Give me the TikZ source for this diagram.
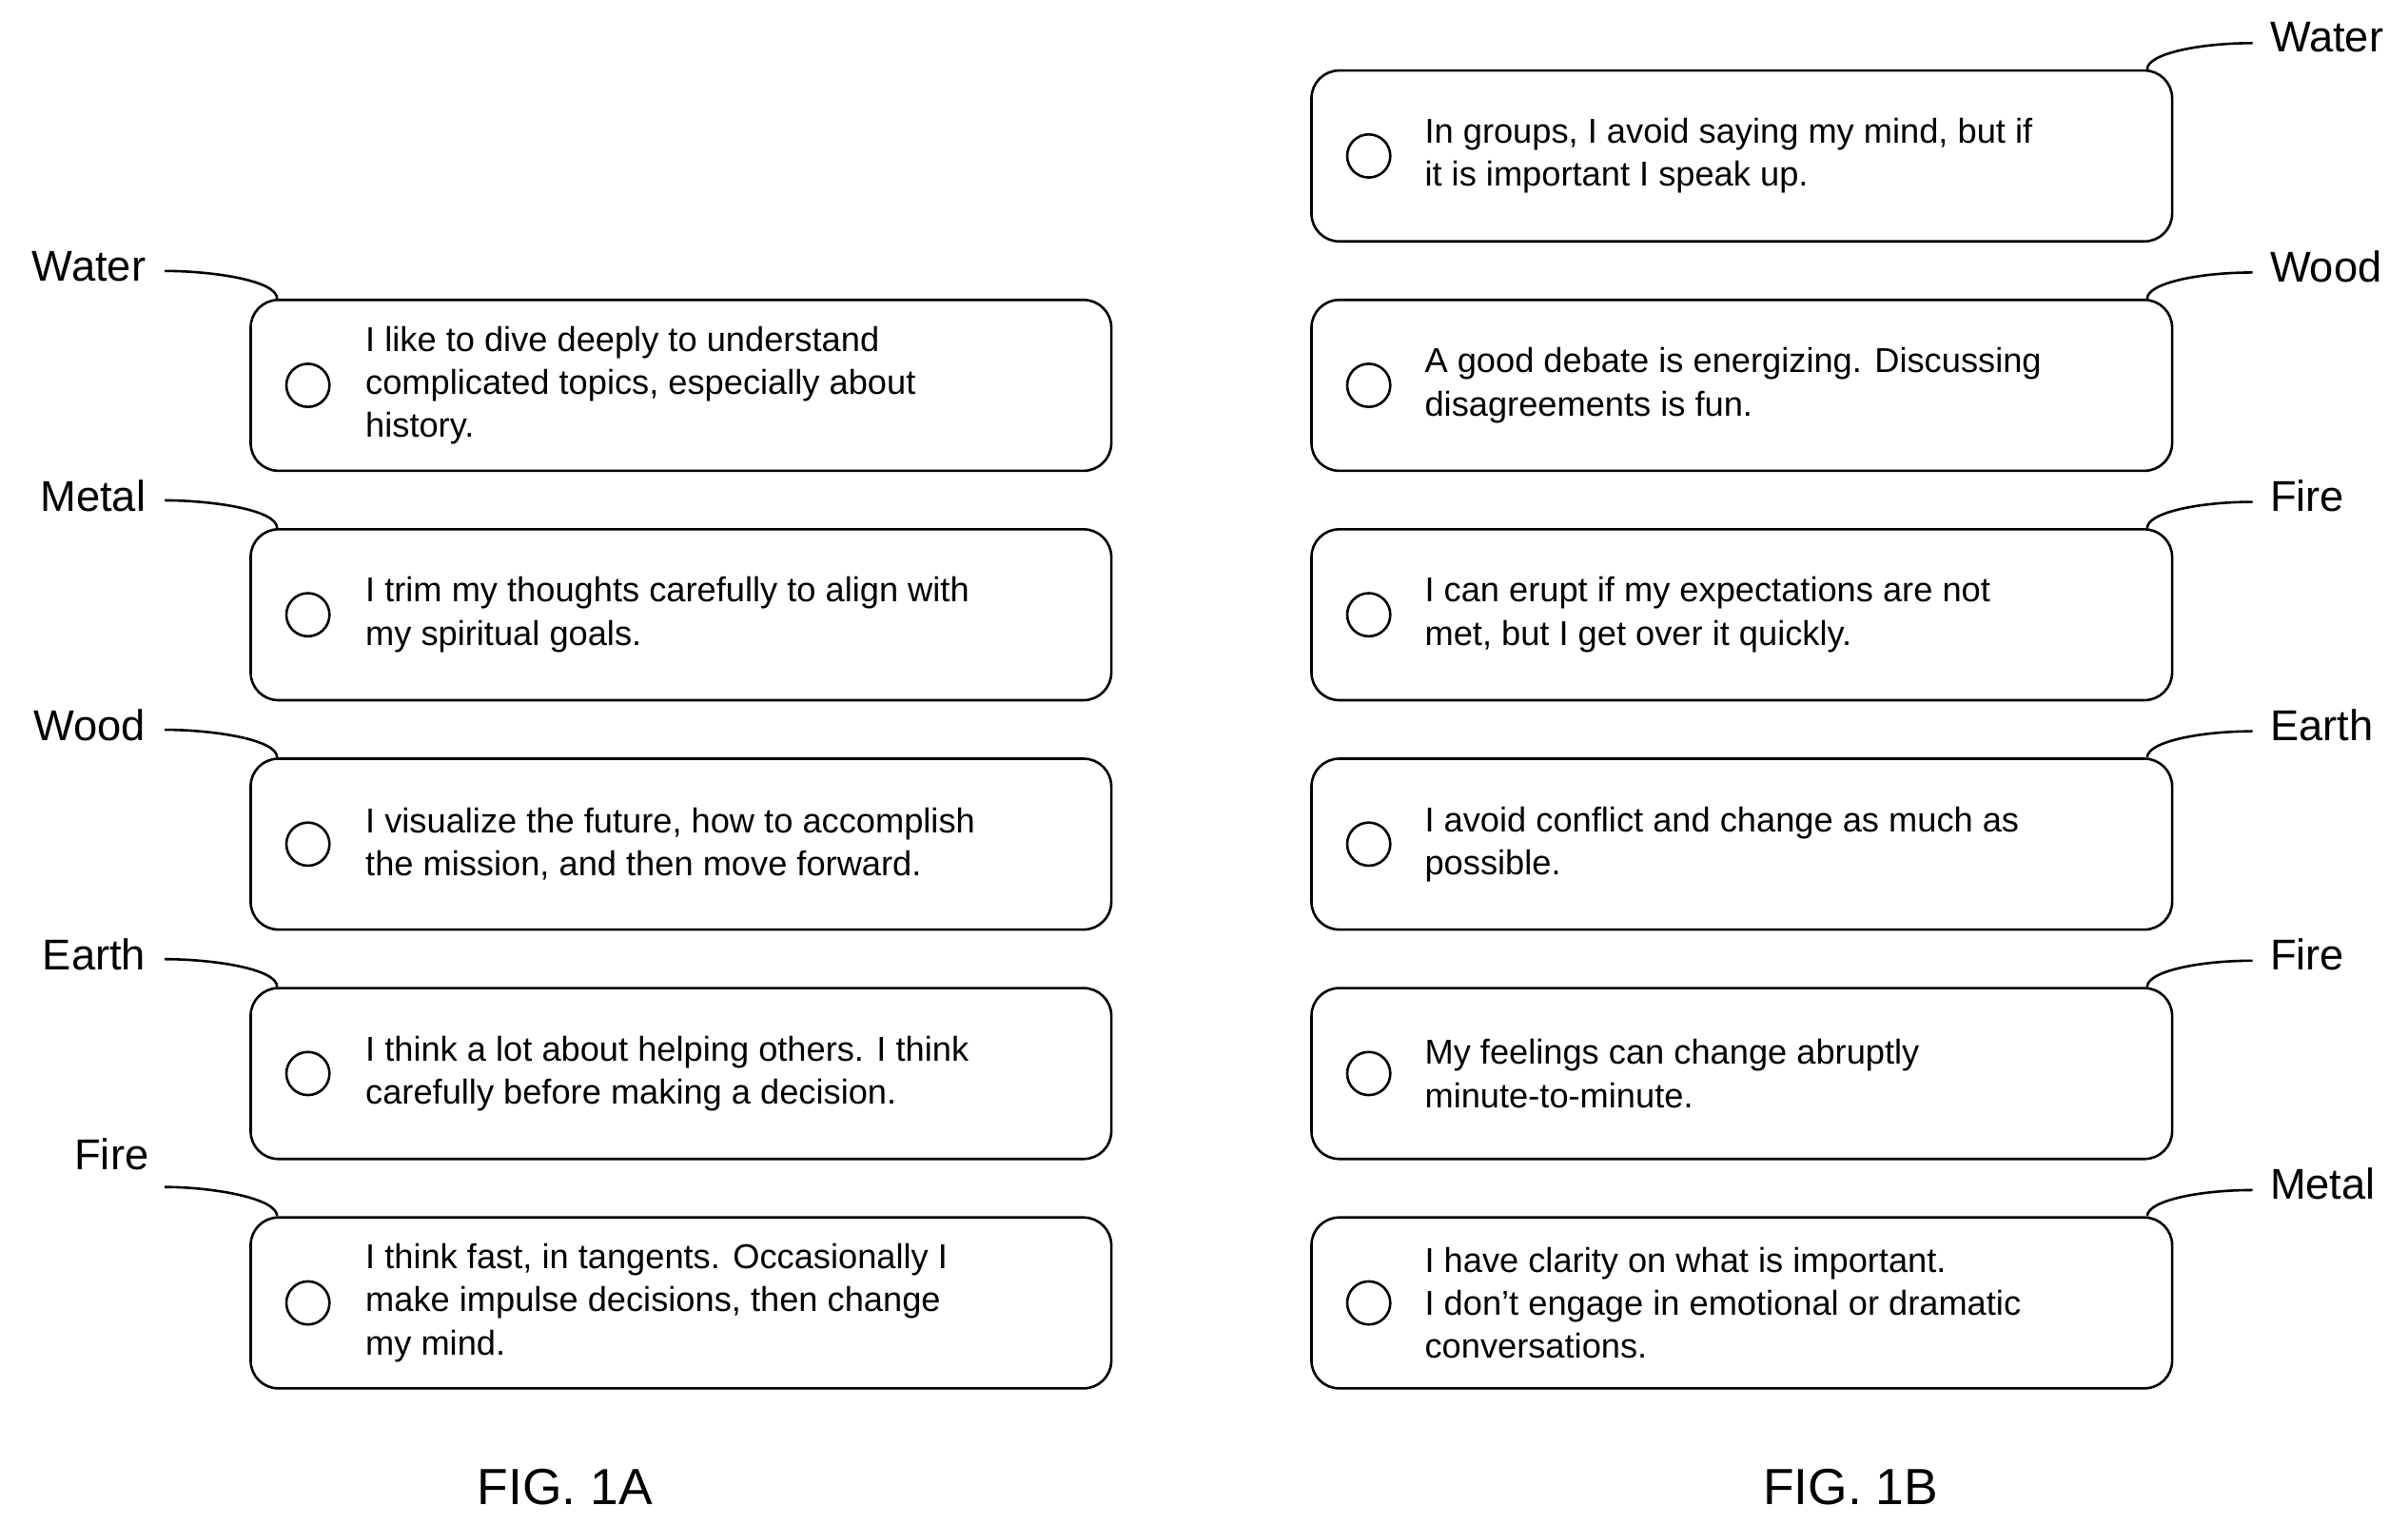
\documentclass[tikz,border=0pt]{standalone}
\usepackage{fontspec}
\setmainfont{Liberation Sans}
\usetikzlibrary{calc}

\tikzset{
  answer/.style={draw, line width=0.8pt, rounded corners=9pt, minimum width=279.5pt, minimum height=55.5pt, inner sep=0pt},
  radio/.style={draw, line width=0.8pt, circle, minimum size=14pt, inner sep=0pt},
  answertext/.style={anchor=west, align=left, inner sep=0pt, font=\fontsize{11.2}{14}\selectfont},
  element/.style={inner sep=0pt, font=\fontsize{14}{16}\selectfont},
  leader/.style={line width=0.8pt},
  figlabel/.style={inner sep=0pt, font=\fontsize{16.5}{18}\selectfont}
}

\begin{document}
\begin{tikzpicture}[x=0.5pt, y=-0.5pt]
\useasboundingbox (0,0) rectangle (1564,990);

% Left column (FIG. 1A)
\foreach \i/\el/\txt in {
  1/Water/{I like to dive deeply to understand\\complicated topics, especially about\\history.},
  2/Metal/{I trim my thoughts carefully to align with\\my spiritual goals.},
  3/Wood/{I visualize the future, how to accomplish\\the mission, and then move forward.},
  4/Earth/{I think a lot about helping others. I think\\carefully before making a decision.},
  5/Fire/{I think fast, in tangents. Occasionally I\\make impulse decisions, then change\\my mind.}} {
    \pgfmathsetmacro{\ytop}{194+149*(\i-1)}
    \node[answer, anchor=north west] (la\i) at (162,\ytop) {};
    \node[radio] (lr\i) at ($(la\i.west)+(19pt,0)$) {};
    \node[answertext] (lt\i) at ($(la\i.west)+(37.5pt,0)$) {\txt};
    \coordinate (lc\i) at ($(la\i.north west)+(9pt,0)$);
    \ifnum\i=5
      \node[element, anchor=east] (ll\i) at (97,\ytop-40) {\el};
      \coordinate (ls\i) at (107,\ytop-19);
    \else
      \node[element, anchor=east] (ll\i) at (95,\ytop-21) {\el};
      \coordinate (ls\i) at (107,\ytop-18);
    \fi
    \draw[leader] (ls\i) .. controls ($(ls\i)+(30,0)$) and ($(lc\i)+(0,-12)$) .. (lc\i);
}

% Right column (FIG. 1B)
\foreach \i/\el/\txt in {
  1/Water/{In groups, I avoid saying my mind, but if\\it is important I speak up.},
  2/Wood/{A good debate is energizing. Discussing\\disagreements is fun.},
  3/Fire/{I can erupt if my expectations are not\\met, but I get over it quickly.},
  4/Earth/{I avoid conflict and change as much as\\possible.},
  5/Fire/{My feelings can change abruptly\\minute-to-minute.},
  6/Metal/{I have clarity on what is important.\\I don't engage in emotional or dramatic\\conversations.}} {
    \pgfmathsetmacro{\ytop}{45+149*(\i-1)}
    \node[answer, anchor=north west] (ra\i) at (851,\ytop) {};
    \node[radio] (rr\i) at ($(ra\i.west)+(19pt,0)$) {};
    \node[answertext] (rt\i) at ($(ra\i.west)+(37pt,0)$) {\txt};
    \coordinate (rc\i) at ($(ra\i.north east)+(-8.5pt,0)$);
    \node[element, anchor=west] (rl\i) at (1474,\ytop-21) {\el};
    \coordinate (rs\i) at (1463,\ytop-17);
    \draw[leader] (rs\i) .. controls ($(rs\i)+(-35,0)$) and ($(rc\i)+(0,-10)$) .. (rc\i);
}

% Figure captions
\node[figlabel] (figa) at (367,966) {FIG. 1A};
\node[figlabel] (figb) at (1202,966) {FIG. 1B};

\end{tikzpicture}
\end{document}
